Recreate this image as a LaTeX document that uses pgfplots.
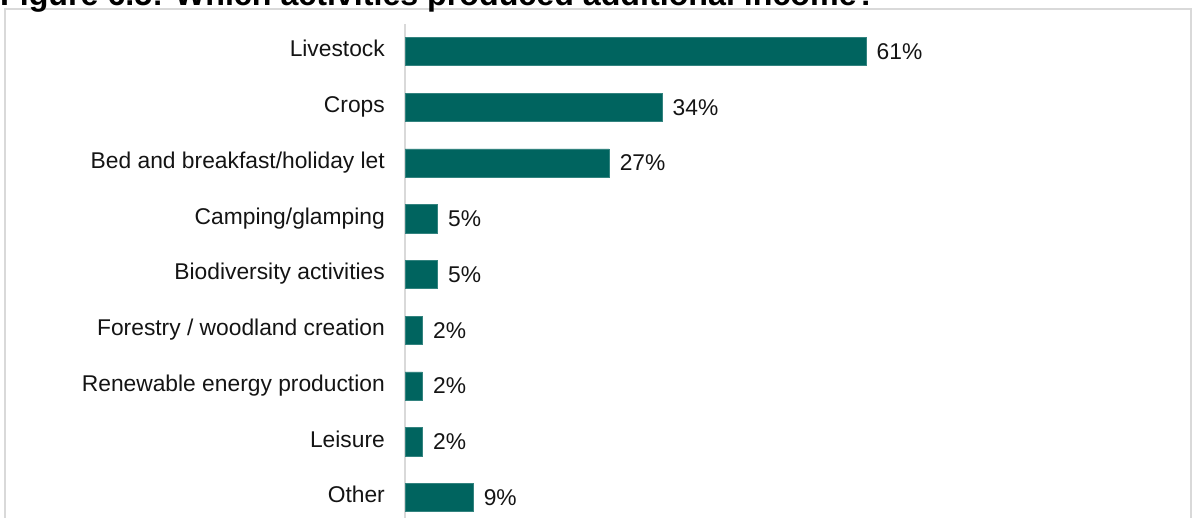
\documentclass[border=0pt]{standalone}
\usepackage{fontspec}
\setmainfont{Liberation Sans}
\usepackage{pgfplots}
\usepackage{pgfplotstable}
\pgfplotsset{compat=1.18}
\definecolor{bargreen}{RGB}{0,100,95}
\definecolor{framegray}{RGB}{217,217,217}
\definecolor{txt}{RGB}{20,20,20}
\pgfplotstableread{
y  value meta
8  61    61
7  34    34
6  27    27
5  4.3   5
4  4.3   5
3  2.3   2
2  2.3   2
1  2.3   2
0  9     9
}\datatable
\begin{document}
\begin{tikzpicture}
\useasboundingbox (0,0) rectangle (1192bp,518bp);
\clip (0,0) rectangle (1192bp,518bp);
\draw[framegray, line width=1.3bp] (5bp,-10bp) -- (5bp,509bp) -- (1191bp,509bp) -- (1191bp,-10bp);
\node[anchor=base west, inner sep=0pt, font=\fontsize{32.2bp}{36bp}\selectfont\bfseries] at (0bp,512.5bp)
  {Figure 6.5: Which activities produced additional income?};
\begin{axis}[
  at={(405bp,494.4bp)}, anchor=north west,
  scale only axis,
  width=529bp, height=501.75bp,
  xmin=0, xmax=70,
  ymin=-0.5, ymax=8.5,
  xbar, bar width=28.3bp,
  axis x line=none,
  axis y line=left,
  y axis line style={-, draw=framegray, line width=1.5bp},
  major tick length=0pt,
  ytick={0,...,8},
  yticklabels={Other, Leisure, Renewable energy production, Forestry / woodland creation, Biodiversity activities, Camping/glamping, Bed and breakfast/holiday let, Crops, Livestock},
  yticklabel style={font=\fontsize{22.8bp}{27bp}\selectfont, text=txt, anchor=base east, inner sep=0pt, xshift=-20bp, yshift=-5.4bp},
  point meta=explicit symbolic,
  nodes near coords={\pgfplotspointmeta\%},
  every node near coord/.append style={font=\fontsize{22.8bp}{27bp}\selectfont, text=txt, anchor=base west, inner sep=0pt, xshift=10.5bp, yshift=-8bp},
  clip=false,
]
\addplot[fill=bargreen, draw=bargreen!80!white, line width=0.5bp] table[x=value, y=y, meta=meta] {\datatable};
\end{axis}
\end{tikzpicture}
\end{document}
